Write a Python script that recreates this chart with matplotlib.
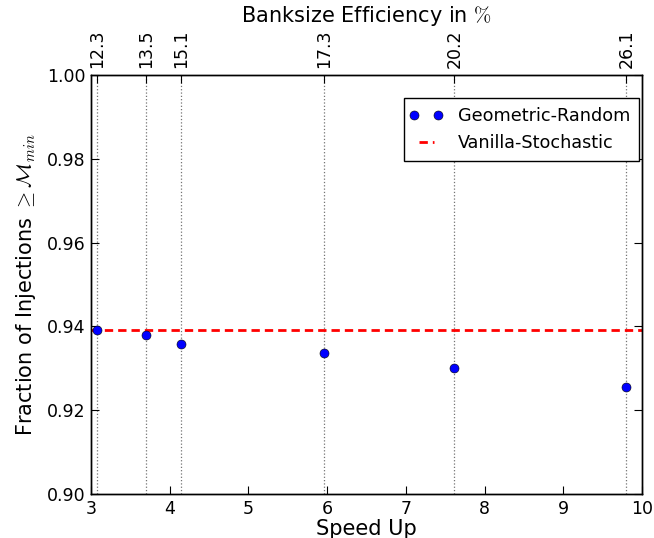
import matplotlib
matplotlib.use("Agg")
import matplotlib.pyplot as plt
from matplotlib.legend_handler import HandlerLine2D
import numpy as np

# speed-up of each bank configuration and the resulting fraction
speedup = [3.077, 3.703, 4.147, 5.958, 7.615, 9.80]
frac_geometric = [0.9391, 0.9379, 0.9357, 0.9336, 0.9301, 0.9256]
banksize_eff = ["12.3", "13.5", "15.1", "17.3", "20.2", "26.1"]
frac_vanilla = 0.9391

plt.rcParams["font.family"] = "DejaVu Sans"
plt.rcParams["mathtext.fontset"] = "cm"
plt.rcParams["xtick.direction"] = "in"
plt.rcParams["ytick.direction"] = "in"

fig = plt.figure(figsize=(6.54, 5.38), dpi=100)
ax = fig.add_axes([0.139, 0.0818, 0.843, 0.7788])

for x in speedup:
    ax.axvline(x, color="0.45", linestyle=":", linewidth=0.9, zorder=1)

pts, = ax.plot(speedup, frac_geometric, "o", color="blue", markeredgecolor="black",
               markeredgewidth=0.4, markersize=6.5, label="Geometric-Random", zorder=3)
ax.axhline(frac_vanilla, color="red", linestyle="--", linewidth=2,
           dashes=(3, 1.8), label="Vanilla-Stochastic", zorder=2)

ax.set_xlim(3, 10)
ax.set_ylim(0.90, 1.00)
ax.set_xticks(np.arange(3, 11, 1))
ax.set_yticks(np.arange(0.90, 1.001, 0.02))
ax.set_yticklabels([f"{v:.2f}" for v in np.arange(0.90, 1.001, 0.02)])
ax.tick_params(axis="both", labelsize=12.5, length=6, pad=4, top=False, right=True)
ax.set_xlabel("Speed Up", fontsize=15, labelpad=1)
ax.set_ylabel(r"Fraction of Injections $\geq\mathcal{M}_{min}$", fontsize=15,
              labelpad=6)

top = ax.twiny()
top.set_xlim(ax.get_xlim())
top.set_xticks(speedup)
top.set_xticklabels(banksize_eff, rotation=90, fontsize=12.5)
top.tick_params(axis="x", direction="in", length=6, pad=5)
top.set_xlabel(r"Banksize Efficiency in $\%$", fontsize=15, labelpad=5)

leg = ax.legend(loc="upper right", numpoints=2, fontsize=12.7,
                fancybox=False, edgecolor="black", framealpha=1,
                bbox_to_anchor=(0.995, 0.945), borderaxespad=0,
                handlelength=1.45, handletextpad=1.1, borderpad=0.5,
                handler_map={pts: HandlerLine2D(marker_pad=0.05)})
leg.get_frame().set_linewidth(1.0)

for s in list(ax.spines.values()) + list(top.spines.values()):
    s.set_linewidth(1.0)

fig.savefig("out.png", dpi=100, facecolor="white")
